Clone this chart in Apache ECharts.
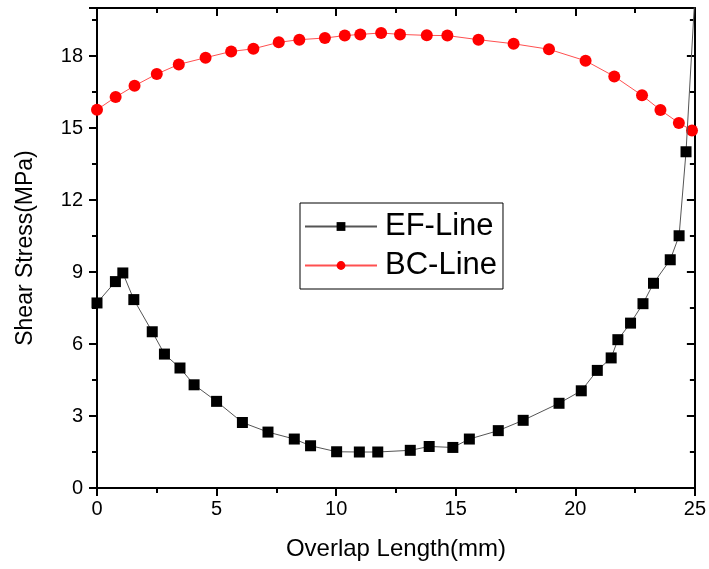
<!DOCTYPE html>
<html>
<head>
<meta charset="utf-8">
<script src="https://cdn.jsdelivr.net/npm/echarts@6/dist/echarts.min.js"></script>
<style>
  html, body { margin: 0; padding: 0; background: #fff; }
  #chart { width: 709px; height: 569px; }
</style>
</head>
<body>
<div id="chart"></div>
<script>
// Shear stress along the overlap, two measurement lines
const efX = [0, 0.77, 1.08, 1.54, 2.31, 2.82, 3.47, 4.06, 5.0, 6.08, 7.15, 8.25, 8.93, 10.02, 10.97, 11.74,
  13.1, 13.89, 14.88, 15.57, 16.78, 17.82, 19.32, 20.25, 20.92, 21.5, 21.78, 22.31, 22.83, 23.27, 23.97, 24.34, 24.63, 25];
const efY = [7.71, 8.6, 8.96, 7.85, 6.51, 5.58, 5.0, 4.3, 3.61, 2.73, 2.33, 2.04, 1.76, 1.51, 1.5, 1.5,
  1.57, 1.73, 1.69, 2.04, 2.39, 2.82, 3.53, 4.05, 4.9, 5.42, 6.18, 6.87, 7.68, 8.53, 9.51, 10.51, 14.01, 20.5];

const bcX = [0, 0.78, 1.57, 2.5, 3.42, 4.54, 5.61, 6.54, 7.6, 8.46, 9.53, 10.36, 11.01, 11.88, 12.67,
  13.79, 14.65, 15.95, 17.42, 18.9, 20.43, 21.63, 22.79, 23.56, 24.33, 24.88];
const bcY = [15.76, 16.29, 16.76, 17.25, 17.65, 17.93, 18.19, 18.3, 18.57, 18.68, 18.75, 18.85, 18.9, 18.96, 18.9,
  18.86, 18.85, 18.68, 18.51, 18.28, 17.8, 17.15, 16.36, 15.75, 15.21, 14.9];

const seriesNames = ['EF-Line', 'BC-Line'];
const xTitle = 'Overlap Length(mm)';
const yTitle = 'Shear Stress(MPa)';

const FONT = "'Liberation Sans', Arial, sans-serif";
const pairs = (xs, ys) => xs.map((x, i) => [x, ys[i]]);

// axis lines stay on the frame edges instead of snapping to zero
const frameLine = { show: true, onZero: false, lineStyle: { color: '#000', width: 2 } };
const majorTick = inside => ({ show: true, inside, length: 8, lineStyle: { color: '#000', width: 2 } });
const minorTick = { show: true, splitNumber: 2, length: 5, lineStyle: { color: '#000', width: 2 } };

const chart = echarts.init(document.getElementById('chart'), null, { renderer: 'canvas' });
chart.setOption({
  animation: false,
  backgroundColor: '#fff',
  grid: { left: 97, right: 12, top: 8, bottom: 81, containLabel: false },
  xAxis: [
    {
      type: 'value', position: 'bottom', min: 0, max: 25, interval: 5,
      axisLine: frameLine,
      axisTick: majorTick(false),
      minorTick: minorTick,
      axisLabel: { color: '#000', fontSize: 20, fontFamily: FONT, margin: 11 },
      splitLine: { show: false },
      name: xTitle, nameLocation: 'middle', nameGap: 49,
      nameTextStyle: { color: '#000', fontSize: 24, fontFamily: FONT }
    },
    {
      type: 'value', position: 'top', min: 0, max: 25, interval: 5,
      axisLine: frameLine,
      axisTick: majorTick(true),
      minorTick: minorTick,
      axisLabel: { show: false },
      splitLine: { show: false }
    }
  ],
  yAxis: [
    {
      type: 'value', position: 'left', min: 0, max: 20, interval: 3,
      axisLine: frameLine,
      axisTick: majorTick(false),
      minorTick: minorTick,
      axisLabel: { color: '#000', fontSize: 20, fontFamily: FONT, margin: 14, showMaxLabel: false },
      splitLine: { show: false },
      name: yTitle, nameLocation: 'middle', nameGap: 60, nameRotate: 90,
      nameTextStyle: { color: '#000', fontSize: 23, fontFamily: FONT }
    },
    {
      type: 'value', position: 'right', min: 0, max: 20, interval: 3,
      axisLine: frameLine,
      axisTick: majorTick(true),
      minorTick: minorTick,
      axisLabel: { show: false },
      splitLine: { show: false }
    }
  ],
  legend: {
    orient: 'vertical',
    left: 300, top: 203,
    padding: [8, 6, 8, 4],
    itemGap: 8,
    itemWidth: 72, itemHeight: 11,
    borderColor: '#000', borderWidth: 1,
    backgroundColor: '#fff',
    textStyle: { color: '#000', fontSize: 31, fontFamily: FONT, lineHeight: 31, padding: [0, 0, 0, 3] },
    data: seriesNames
  },
  series: [
    {
      name: seriesNames[0], type: 'line', z: 3, clip: true,
      data: pairs(efX, efY),
      symbol: 'rect', symbolSize: 11,
      itemStyle: { color: '#000' },
      lineStyle: { color: '#555', width: 1 }
    },
    {
      name: seriesNames[1], type: 'line', z: 2, clip: true,
      data: pairs(bcX, bcY),
      symbol: 'circle', symbolSize: 12,
      itemStyle: { color: '#ff0000' },
      lineStyle: { color: '#ff5050', width: 1 }
    }
  ]
});
</script>
</body>
</html>
